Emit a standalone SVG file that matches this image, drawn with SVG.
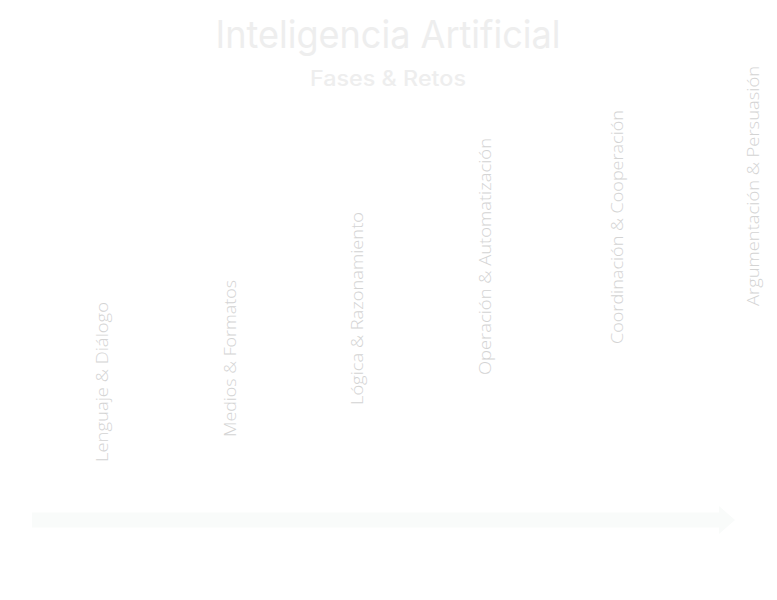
<svg xmlns="http://www.w3.org/2000/svg" width="777" height="600" viewBox="0 0 777 600">
  <style>
    .title { font-family: "Inter", "Open Sans", sans-serif; fill: #eeeeee; text-anchor: middle; }
    .phase { font-family: "Open Sans", "Lato", sans-serif; font-weight: 300; font-size: 17px; fill: #d4d4d4; }
    .track { fill: #f9fbfa; }
  </style>
  <rect width="777" height="600" fill="#ffffff"/>

  <g id="header">
    <text class="title" x="388" y="48" font-size="38" font-weight="400" textLength="345" lengthAdjust="spacingAndGlyphs">Inteligencia Artificial</text>
    <text class="title" x="388" y="86" font-size="21" font-weight="500" fill="#f2f2f2" textLength="156" lengthAdjust="spacingAndGlyphs">Fases &amp; Retos</text>
  </g>

  <g id="connectors">
    <!-- timeline arrow -->
    <path class="track" d="M32 512.5 H719 V506 L735 520 L719 534 V527.5 H32 Z"/>
  </g>

  <g id="phase-1">
    <text class="phase" x="108" y="462" transform="rotate(-90 108 462)" textLength="160" lengthAdjust="spacingAndGlyphs">Lenguaje &amp; Diálogo</text>
  </g>
  <g id="phase-2">
    <text class="phase" x="236" y="437" transform="rotate(-90 236 437)" textLength="157" lengthAdjust="spacingAndGlyphs">Medios &amp; Formatos</text>
  </g>
  <g id="phase-3">
    <text class="phase" x="363" y="405" transform="rotate(-90 363 405)" textLength="193" lengthAdjust="spacingAndGlyphs">Lógica &amp; Razonamiento</text>
  </g>
  <g id="phase-4">
    <text class="phase" x="491" y="375" transform="rotate(-90 491 375)" textLength="237" lengthAdjust="spacingAndGlyphs">Operación &amp; Automatización</text>
  </g>
  <g id="phase-5">
    <text class="phase" x="623" y="344" transform="rotate(-90 623 344)" textLength="234" lengthAdjust="spacingAndGlyphs">Coordinación &amp; Cooperación</text>
  </g>
  <g id="phase-6">
    <text class="phase" x="759" y="306" transform="rotate(-90 759 306)" textLength="240" lengthAdjust="spacingAndGlyphs">Argumentación &amp; Persuasión</text>
  </g>
</svg>
